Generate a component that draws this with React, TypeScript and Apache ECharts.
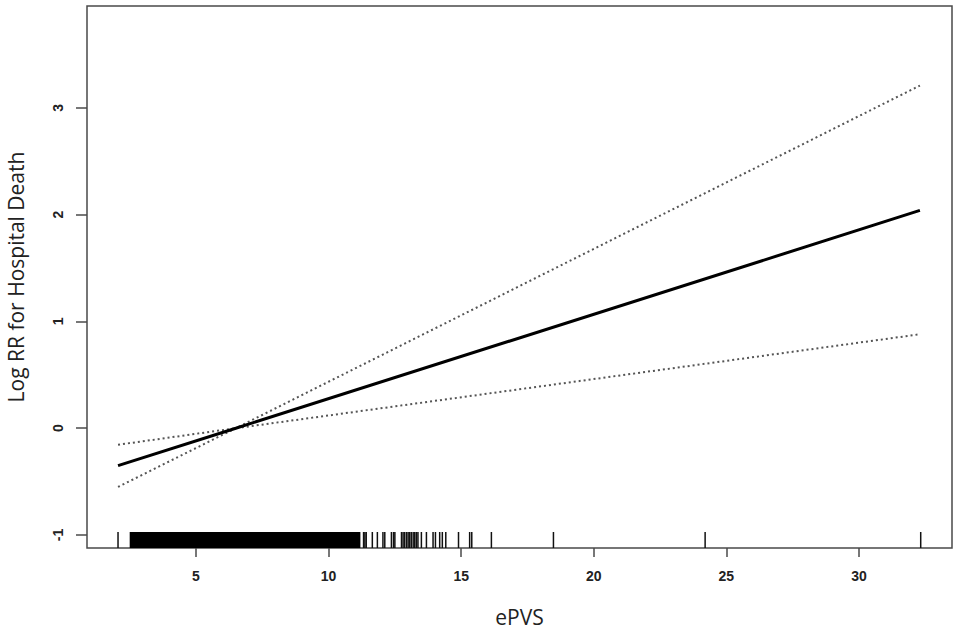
import React, { useEffect, useRef } from "react";
import * as echarts from "echarts";

// Fitted relationship (x = ePVS, y = log RR)
const xPoints = [2.06, 6.5, 32.3];
const estimate = [-0.35, 0, 2.04];
const upperCI = [-0.55, 0, 3.21];
const lowerCI = [-0.155, 0, 0.88];

// Rug: dense band of observations and individual sparse observations
const rugBands = [[2.5, 11.2]];
const rugTicks = [
  2.06, 11.32, 11.37, 11.42, 11.65, 11.84, 12.05, 12.12, 12.37, 12.45, 12.5,
  12.75, 12.81, 12.87, 12.94, 13.0, 13.06, 13.12, 13.19, 13.25, 13.31, 13.37,
  13.5, 13.69, 13.94, 14.03, 14.19, 14.29, 14.42, 14.9, 15.32, 15.4, 16.14,
  18.48, 24.2, 32.33,
];

const xTicks = [5, 10, 15, 20, 25, 30];
const yTicks = [-1, 0, 1, 2, 3];

const FRAME = "#4a4a4a";
const TEXT = "#222";

export default function App() {
  const ref = useRef<HTMLDivElement>(null);
  useEffect(() => {
    if (!ref.current) return;
    const chart = echarts.init(ref.current, null, { renderer: "svg" });
    const rugLen = 16;
    chart.setOption({
      animation: false,
      backgroundColor: "#fff",
      grid: {
        left: 87,
        right: 7,
        top: 6,
        bottom: 83,
        show: true,
        borderColor: FRAME,
        borderWidth: 1.5,
        containLabel: false,
        outerBoundsMode: "none",
      },
      xAxis: {
        type: "value",
        min: 0.89,
        max: 33.51,
        splitLine: { show: false },
        axisLine: { show: false, onZero: false },
        axisTick: {
          show: true,
          customValues: xTicks,
          length: 9,
          lineStyle: { color: FRAME, width: 1.5 },
        },
        axisLabel: {
          customValues: xTicks,
          margin: 21,
          fontSize: 14,
          fontWeight: "bold",
          color: TEXT,
          fontFamily: "Liberation Sans, Arial, sans-serif",
        },
        name: "ePVS",
        nameLocation: "middle",
        nameGap: 58,
        nameTextStyle: {
          fontSize: 21,
          color: TEXT,
          fontFamily: "Open Sans, sans-serif",
        },
      },
      yAxis: {
        type: "value",
        min: -1.122,
        max: 3.955,
        splitLine: { show: false },
        axisLine: { show: false, onZero: false },
        axisTick: {
          show: true,
          customValues: yTicks,
          length: 11,
          lineStyle: { color: FRAME, width: 1.5 },
        },
        axisLabel: {
          customValues: yTicks,
          rotate: 90,
          margin: 22,
          fontSize: 14,
          fontWeight: "bold",
          color: TEXT,
          fontFamily: "Liberation Sans, Arial, sans-serif",
          formatter: (v: number) => String(v),
        },
        name: "Log RR for Hospital Death",
        nameLocation: "middle",
        nameGap: 60,
        nameTextStyle: {
          fontSize: 21,
          lineHeight: 22,
          color: TEXT,
          fontFamily: "Open Sans, sans-serif",
        },
      },
      series: [
        {
          type: "line",
          data: xPoints.map((x, i) => [x, upperCI[i]]),
          symbol: "none",
          lineStyle: { color: "#555", width: 2, type: [2, 3] },
        },
        {
          type: "line",
          data: xPoints.map((x, i) => [x, lowerCI[i]]),
          symbol: "none",
          lineStyle: { color: "#555", width: 2, type: [2, 3] },
        },
        {
          type: "line",
          data: xPoints.map((x, i) => [x, estimate[i]]),
          symbol: "none",
          lineStyle: { color: "#000", width: 3 },
        },
        {
          type: "custom",
          data: rugBands,
          renderItem: (params: any, api: any) => {
            const x0 = api.coord([api.value(0), 0])[0];
            const x1 = api.coord([api.value(1), 0])[0];
            const cs = params.coordSys;
            const bottom = cs.y + cs.height;
            return {
              type: "rect",
              shape: { x: x0, y: bottom - rugLen, width: x1 - x0, height: rugLen },
              style: { fill: "#000" },
            };
          },
          encode: { x: [0, 1] },
        },
        {
          type: "custom",
          data: rugTicks.map((v) => [v]),
          renderItem: (params: any, api: any) => {
            const x = api.coord([api.value(0), 0])[0];
            const cs = params.coordSys;
            const bottom = cs.y + cs.height;
            return {
              type: "line",
              shape: { x1: x, y1: bottom, x2: x, y2: bottom - rugLen },
              style: { stroke: "#111", lineWidth: 1.5 },
            };
          },
          encode: { x: 0 },
        },
      ],
    });
    return () => chart.dispose();
  }, []);
  return (
    <div
      ref={ref}
      style={{ position: "fixed", left: 0, top: 0, width: 959, height: 631 }}
    />
  );
}
